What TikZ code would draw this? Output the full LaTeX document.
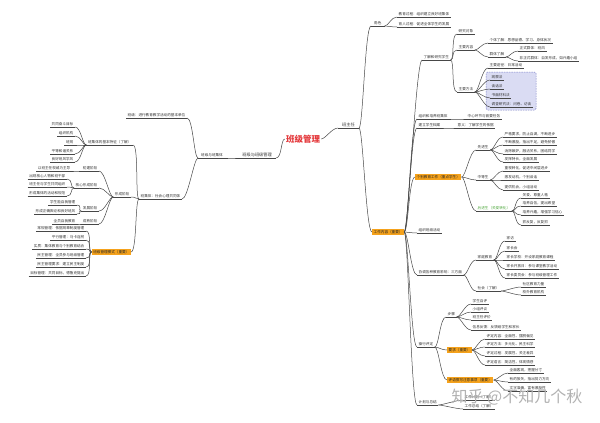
\documentclass[tikz,border=0pt]{standalone}
\usepackage{fontspec}
\setmainfont{Noto Sans CJK SC}
\definecolor{lc}{HTML}{474747}
\definecolor{txt}{HTML}{333333}
\definecolor{hotc}{HTML}{F5A21C}
\definecolor{redc}{HTML}{E4373A}
\definecolor{grnc}{HTML}{4FA83D}
\definecolor{grpfill}{HTML}{DADCF3}
\definecolor{grpline}{HTML}{7F84C9}
\newcommand\mmfs{\fontsize{3.6pt}{4.2pt}\selectfont}
\newcommand\mmfb{\fontsize{4.2pt}{5pt}\selectfont}

\begin{document}
\begin{tikzpicture}[x=1pt, y=-1pt,
  uline/.style={draw=lc, line width=0.5pt},
  tx/.style={font=\mmfs, text=txt, inner xsep=1.5pt, inner ysep=0.7pt,
    append after command={(\tikzlastnode.south west) edge[uline] (\tikzlastnode.south east)}},
  rt/.style={tx, anchor=south west},
  lt/.style={tx, anchor=south east},
  hot/.style={font=\mmfs, fill=hotc, text=black!85, inner xsep=1.5pt, inner ysep=1.2pt},
  ctr/.style={font=\bfseries\fontsize{8.5pt}{9pt}\selectfont, text=redc, inner sep=1pt},
  lk/.style={draw=lc, line width=0.5pt, out=0, in=180, out distance=4pt, in distance=6pt},
  lkl/.style={lk, out=180, in=0},
  grp/.style={draw=grpline, fill=grpfill, line width=0.5pt, dash pattern=on 1.5pt off 1pt, rounded corners=1.5pt},
  wm/.style={font=\fontsize{16pt}{18pt}\selectfont, text=black!30}]
\fill[white] (0,0) rectangle (600,423);
\useasboundingbox (0,0) rectangle (600,423);
\draw[grp] (486,72) rectangle (536,110);

% 中心
\node[ctr] (root) at (303,139) {班级管理};

% 右侧：班主任
\node[rt, font=\mmfb, inner xsep=4pt] (zr) at (338,128) {班主任};
\node[rt, inner xsep=3pt] (js) at (371,26) {角色};
\node[rt] (js1) at (397,17) {教育过程：组织建立良好班集体};
\node[rt] (js2) at (397,27) {育人过程：促进全体学生的发展};
\node[hot, anchor=west] (gz) at (372,232) {工作内容（重要）};

\node[rt] (lj) at (422,60) {了解和研究学生};
\node[rt] (dx) at (457,34) {研究对象};
\node[rt] (nr) at (457,50) {主要内容};
\node[rt] (gt) at (488,43) {个体了解：思想品德、学习、身体状况};
\node[rt] (qt) at (488,57) {群体了解};
\node[rt] (zs) at (518,51) {正式群体：班风};
\node[rt] (fz) at (518,61) {非正式群体：自发形成，如兴趣小组};
\node[rt] (ff) at (457,92) {主要方法};
\node[rt] (tj) at (488,68) {主要途径：日常活动};
\node[rt] (gc) at (490,80) {观察法};
\node[rt] (th) at (490,89) {谈话法};
\node[rt] (sm) at (490,98) {书面材料法};
\node[rt] (dc) at (490,107) {调查研究法：问卷、访谈};

\node[rt] (zz) at (417,119) {组织和培养班集体};
\node[rt] (hx) at (466,119) {中心环节与首要任务};
\node[rt] (da) at (417,128) {建立学生档案};
\node[rt] (yy) at (456,128) {意义：了解学生的依据};

\node[hot, anchor=west] (gb) at (415,177) {个别教育工作（重点学生）};
\node[rt] (xj) at (476,150) {先进生};
\node[rt] (xj1) at (503,137) {严格要求，防止自满，不断进步};
\node[rt] (xj2) at (503,145) {不断激励，指出不足，避免骄傲};
\node[rt] (xj3) at (503,154) {消除嫉妒，融洽关系，团结同学};
\node[rt] (xj4) at (503,162) {发挥特长，全面发展};
\node[rt] (zd) at (476,180) {中等生};
\node[rt] (zd1) at (503,171) {重视转化，促进中间层进步};
\node[rt] (zd2) at (503,180) {激发动机，个别谈话};
\node[rt] (zd3) at (503,190) {提供机会，小组活动};
\node[rt, text=grnc] (hj) at (476,211) {后进生（关爱转化）};
\node[rt] (hj1) at (521,198) {关爱、尊重人格};
\node[rt] (hj2) at (521,206) {培养自信，提出希望};
\node[rt] (hj3) at (521,215) {培养兴趣，增强学习信心};
\node[rt] (hj4) at (521,225) {抓反复，反复抓};

\node[rt] (hd) at (417,233) {组织班级活动};
\node[rt] (xt) at (417,275) {协调各种教育影响：三方面};
\node[rt] (jt) at (476,260) {家庭教育};
\node[rt] (jt1) at (505,241) {家访};
\node[rt] (jt2) at (505,251) {家长会};
\node[rt] (jt3) at (505,260) {家长学校：开设家庭教育课程};
\node[rt] (jt4) at (505,269) {家长开放日：参与课堂教学活动};
\node[rt] (jt5) at (505,278) {家长委员会：参与班级管理工作};
\node[rt] (sh) at (476,291) {社会（了解）};
\node[rt] (sh1) at (521,287) {社区教育力量};
\node[rt] (sh2) at (521,295) {校外教育机构};

\node[rt] (cx) at (417,347) {操行评定};
\node[rt] (bz) at (446,317) {步骤};
\node[rt] (bz1) at (471,304) {学生自评};
\node[rt] (bz2) at (471,312) {小组评议};
\node[rt] (bz3) at (471,320) {班主任评价};
\node[rt] (bz4) at (471,330) {信息反馈：反馈给学生和家长};
\node[hot, anchor=west] (yq) at (447,350) {要求（重要）};
\node[rt] (yq1) at (485,339) {评定内容：全面性、摆脱偏见};
\node[rt] (yq2) at (485,347) {评定方法：多元化、民主科学};
\node[rt] (yq3) at (485,356) {评定过程：发展性、关注差异};
\node[rt] (yq4) at (485,365) {评定语言：简洁性、体现情感};
\node[hot, anchor=west] (zy) at (447,380) {评语撰写注意事项（重要）};
\node[rt] (zy1) at (508,373) {全面客观，把握分寸};
\node[rt] (zy2) at (508,382) {有的放矢，指出努力方向};
\node[rt] (zy3) at (508,391) {文字准确，富有激励性};
\node[rt] (jh) at (417,405) {计划与总结};
\node[rt] (jh1) at (463,400) {工作计划（了解）};
\node[rt] (jh2) at (463,409) {工作总结（了解）};

% 左侧：班级与班级管理
\node[lt, font=\mmfb, inner xsep=4pt] (bg) at (276,158) {班级与班级管理};
\node[lt, inner xsep=3pt] (bj) at (226,158) {班级与班集体};
\node[lt] (bjj) at (187,118) {班级：进行教育教学活动的基本单位};
\node[lt] (bjt) at (182,199) {班集体：社会心理共同体};
\node[lt] (tz) at (133,145) {班集体的基本特征（了解）};
\node[lt] (tz1) at (75,127) {共同奋斗目标};
\node[lt] (tz2) at (75,136) {组织机构};
\node[lt] (tz3) at (75,145) {班规};
\node[lt] (tz4) at (75,154) {平等和谐关系};
\node[lt] (tz5) at (75,162) {良好班风学风};
\node[lt] (xc) at (131,197) {形成阶段};
\node[lt] (cj) at (99,171) {初建阶段};
\node[lt] (cj1) at (72,171) {以班主任权威为主导};
\node[lt] (hxj) at (99,188) {核心形成阶段};
\node[lt] (hxj1) at (67,179) {出现核心人物和班干部};
\node[lt] (hxj2) at (67,187) {班主任与学生共同组织};
\node[lt] (hxj3) at (67,196) {形成集体的活动和规范};
\node[lt] (fzj) at (99,211) {发展阶段};
\node[lt] (fzj1) at (77,205) {学生能自我管理};
\node[lt] (fzj2) at (77,214) {形成正确舆论和良好班风};
\node[lt] (csj) at (99,224) {成熟阶段};
\node[lt] (csj1) at (77,224) {全员自我教育};
\node[hot, anchor=east] (ms) at (131,252) {班级管理模式（重要）};
\node[lt] (ms1) at (86,231) {常规管理：依据规章制度管理};
\node[lt] (ms2) at (86,240) {平行管理：马卡连柯};
\node[lt] (ms3) at (86,249) {实质：集体教育与个别教育结合};
\node[lt] (ms4) at (86,258) {民主管理：全员参与班级管理};
\node[lt] (ms5) at (86,267) {民主管理要求：建立民主制度};
\node[lt] (ms6) at (86,276) {目标管理：共同目标，德鲁克提出};

% 连线
\draw (root.east) edge[lk] (zr.south west)
      (root.west) edge[lkl] (bg.south east);
\draw (zr.south east) edge[lk] (js.south west) edge[lk] (gz.west);
\draw (js.south east) edge[lk] (js1.south west) edge[lk] (js2.south west);
\draw (gz.east) edge[lk] (lj.south west) edge[lk] (zz.south west) edge[lk] (da.south west)
      edge[lk] (gb.west) edge[lk] (hd.south west) edge[lk] (xt.south west)
      edge[lk] (cx.south west) edge[lk] (jh.south west);
\draw (lj.south east) edge[lk] (dx.south west) edge[lk] (nr.south west) edge[lk] (ff.south west);
\draw (nr.south east) edge[lk] (gt.south west) edge[lk] (qt.south west);
\draw (qt.south east) edge[lk] (zs.south west) edge[lk] (fz.south west);
\draw (ff.south east) edge[lk] (tj.south west) edge[lk] (gc.south west) edge[lk] (th.south west)
      edge[lk] (sm.south west) edge[lk] (dc.south west);
\draw (zz.south east) edge[lk] (hx.south west);
\draw (da.south east) edge[lk] (yy.south west);
\draw (gb.east) edge[lk] (xj.south west) edge[lk] (zd.south west) edge[lk] (hj.south west);
\draw (xj.south east) edge[lk] (xj1.south west) edge[lk] (xj2.south west)
      edge[lk] (xj3.south west) edge[lk] (xj4.south west);
\draw (zd.south east) edge[lk] (zd1.south west) edge[lk] (zd2.south west) edge[lk] (zd3.south west);
\draw (hj.south east) edge[lk] (hj1.south west) edge[lk] (hj2.south west)
      edge[lk] (hj3.south west) edge[lk] (hj4.south west);
\draw (xt.south east) edge[lk] (jt.south west) edge[lk] (sh.south west);
\draw (jt.south east) edge[lk] (jt1.south west) edge[lk] (jt2.south west) edge[lk] (jt3.south west)
      edge[lk] (jt4.south west) edge[lk] (jt5.south west);
\draw (sh.south east) edge[lk] (sh1.south west) edge[lk] (sh2.south west);
\draw (cx.south east) edge[lk] (bz.south west) edge[lk] (yq.west) edge[lk] (zy.west);
\draw (bz.south east) edge[lk] (bz1.south west) edge[lk] (bz2.south west)
      edge[lk] (bz3.south west) edge[lk] (bz4.south west);
\draw (yq.east) edge[lk] (yq1.south west) edge[lk] (yq2.south west)
      edge[lk] (yq3.south west) edge[lk] (yq4.south west);
\draw (zy.east) edge[lk] (zy1.south west) edge[lk] (zy2.south west) edge[lk] (zy3.south west);
\draw (jh.south east) edge[lk] (jh1.south west) edge[lk] (jh2.south west);

\draw (bg.south west) edge[lkl] (bj.south east);
\draw (bj.south west) edge[lkl] (bjj.south east) edge[lkl] (bjt.south east);
\draw (bjt.south west) edge[lkl] (tz.south east) edge[lkl] (xc.south east) edge[lkl] (ms.east);
\draw (tz.south west) edge[lkl] (tz1.south east) edge[lkl] (tz2.south east) edge[lkl] (tz3.south east)
      edge[lkl] (tz4.south east) edge[lkl] (tz5.south east);
\draw (xc.south west) edge[lkl] (cj.south east) edge[lkl] (hxj.south east)
      edge[lkl] (fzj.south east) edge[lkl] (csj.south east);
\draw (cj.south west) edge[lkl] (cj1.south east);
\draw (hxj.south west) edge[lkl] (hxj1.south east) edge[lkl] (hxj2.south east) edge[lkl] (hxj3.south east);
\draw (fzj.south west) edge[lkl] (fzj1.south east) edge[lkl] (fzj2.south east);
\draw (csj.south west) edge[lkl] (csj1.south east);
\draw (ms.west) edge[lkl] (ms1.south east) edge[lkl] (ms2.south east) edge[lkl] (ms3.south east)
      edge[lkl] (ms4.south east) edge[lkl] (ms5.south east) edge[lkl] (ms6.south east);

% 水印
\node[wm] (mark) at (517,397) {知乎 @不知几个秋};
\end{tikzpicture}
\end{document}
